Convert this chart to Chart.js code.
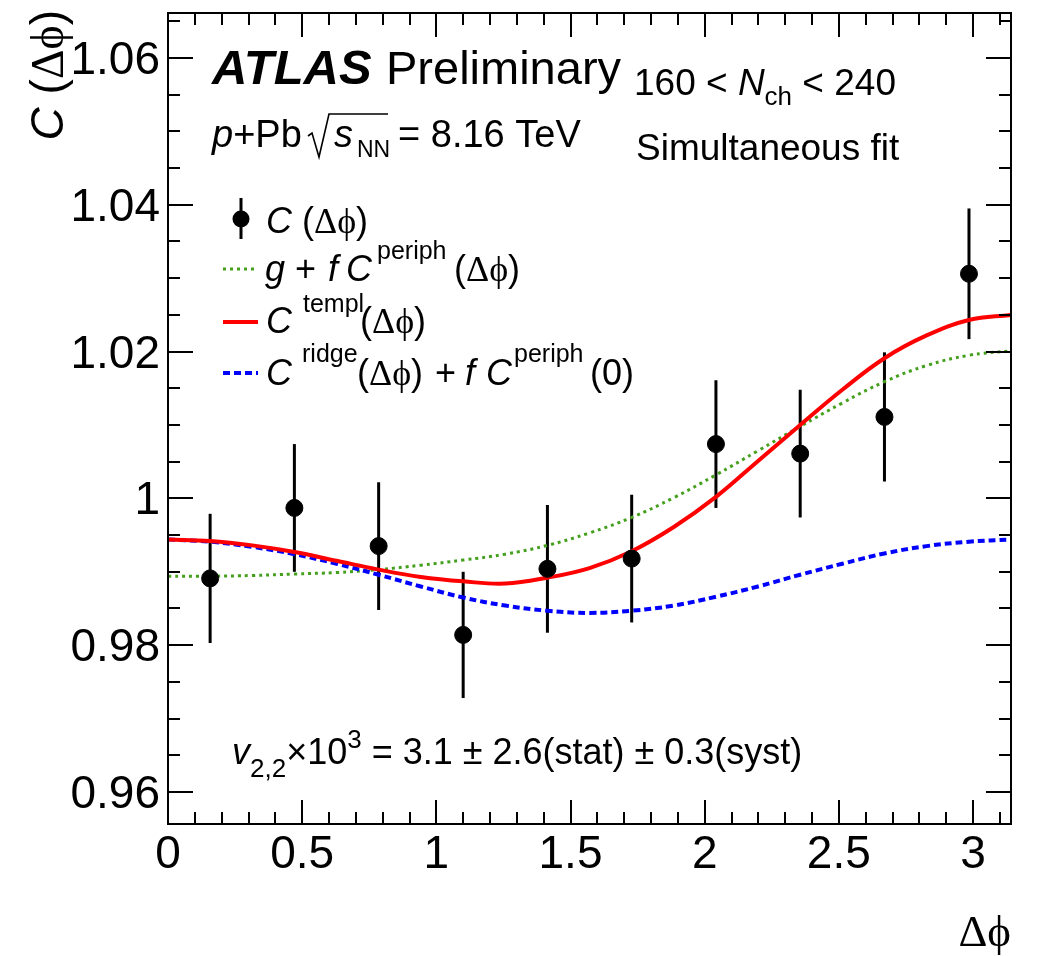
<!DOCTYPE html>
<html>
<head>
<meta charset="utf-8">
<script src="https://cdn.jsdelivr.net/npm/chart.js@4"></script>
<style>
  body { margin: 0; background: #fff; }
  #wrap { width: 1039px; height: 956px; }
</style>
</head>
<body>
<div id="wrap"><canvas id="corr" width="1039" height="956"></canvas></div>
<script>
// measured points, C(dphi) with stat errors
const binCenters = [0.157, 0.471, 0.785, 1.100, 1.414, 1.728, 2.042, 2.356, 2.670, 2.985];
const cValues = [0.9891, 0.9987, 0.9935, 0.9814, 0.9904, 0.9918, 1.0074, 1.0061, 1.0111, 1.0306];
const cErrors = [0.0088, 0.0087, 0.0087, 0.0086, 0.0087, 0.0087, 0.0087, 0.0087, 0.0088, 0.0089];

// fit curves, every pi/20
const curveX = [0, 0.157, 0.314, 0.471, 0.628, 0.785, 0.942, 1.100, 1.257, 1.414, 1.571,
                1.728, 1.885, 2.042, 2.199, 2.356, 2.513, 2.670, 2.827, 2.985, 3.1416];
const gPeriph = [0.9894, 0.9894, 0.9895, 0.9897, 0.9899, 0.9903, 0.9909, 0.9916, 0.9924, 0.9936, 0.9953,
                 0.9974, 1.0001, 1.0032, 1.0065, 1.0098, 1.0130, 1.0159, 1.0181, 1.0195, 1.0201];
const cTempl = [0.9944, 0.9942, 0.9936, 0.9927, 0.9915, 0.9903, 0.9893, 0.9887, 0.9884, 0.9892, 0.9905,
                0.9928, 0.9961, 1.0002, 1.0051, 1.0100, 1.0148, 1.0191, 1.0222, 1.0243, 1.0250];
const cRidge = [0.9944, 0.9941, 0.9934, 0.9924, 0.9911, 0.9896, 0.9880, 0.9865, 0.9854, 0.9847, 0.9844,
                0.9847, 0.9854, 0.9866, 0.9880, 0.9896, 0.9911, 0.9925, 0.9935, 0.9941, 0.9944];

// axis ticks
const xTicks = [0, 0.5, 1, 1.5, 2, 2.5, 3];
const xTickLabels = ['0', '0.5', '1', '1.5', '2', '2.5', '3'];
const yTicks = [0.96, 0.98, 1.00, 1.02, 1.04, 1.06];
const yTickLabels = ['0.96', '0.98', '1', '1.02', '1.04', '1.06'];

const SANS = '"Liberation Sans", Arial, Helvetica, sans-serif';
const SERIF = '"Liberation Serif", "DejaVu Serif", "Times New Roman", serif';
const GREEN = '#44a01c';

function pts(xs, ys) {
    return xs.map((x, i) => ({ x: x, y: ys[i] }));
}

// draw pieces of text one after another; a piece may pin its own x
function run(ctx, x, y, parts) {
    ctx.textAlign = 'left';
    ctx.textBaseline = 'alphabetic';
    for (const p of parts) {
        if (p.x !== undefined) x = p.x;
        ctx.font = p.f;
        ctx.fillText(p.t, x, y + (p.dy || 0));
        x += ctx.measureText(p.t).width;
    }
    return x;
}

const errorBars = {
    id: 'errorBars',
    beforeDatasetsDraw(chart) {
        const ctx = chart.ctx, xs = chart.scales.x, ys = chart.scales.y;
        ctx.save();
        ctx.strokeStyle = '#000';
        ctx.lineWidth = 3;
        binCenters.forEach((bx, i) => {
            const px = xs.getPixelForValue(bx);
            ctx.beginPath();
            ctx.moveTo(px, ys.getPixelForValue(cValues[i] + cErrors[i]));
            ctx.lineTo(px, ys.getPixelForValue(cValues[i] - cErrors[i]));
            ctx.stroke();
        });
        ctx.restore();
    }
};

const frame = {
    id: 'frame',
    afterDraw(chart) {
        const ctx = chart.ctx, a = chart.chartArea;
        const xs = chart.scales.x, ys = chart.scales.y;
        ctx.save();
        ctx.strokeStyle = '#000';
        ctx.lineWidth = 2;
        ctx.strokeRect(a.left, a.top, a.right - a.left, a.bottom - a.top);

        ctx.beginPath();
        // x ticks, bottom and top, pointing inward
        for (let k = 0; k <= 31; k++) {
            const v = k / 10;
            const px = Math.round(xs.getPixelForValue(v));
            const len = (k % 5 === 0) ? 24 : 12;
            ctx.moveTo(px, a.bottom); ctx.lineTo(px, a.bottom - len);
            ctx.moveTo(px, a.top); ctx.lineTo(px, a.top + len);
        }
        // y ticks, left and right
        for (let k = 0; k <= 21; k++) {
            const v = 0.96 + k * 0.005;
            const py = Math.round(ys.getPixelForValue(v));
            const len = (k % 4 === 0) ? 25 : 12;
            ctx.moveTo(a.left, py); ctx.lineTo(a.left + len, py);
            ctx.moveTo(a.right, py); ctx.lineTo(a.right - len, py);
        }
        ctx.stroke();

        ctx.fillStyle = '#000';
        ctx.font = '46px ' + SANS;
        ctx.textBaseline = 'alphabetic';
        ctx.textAlign = 'center';
        xTicks.forEach((v, i) => ctx.fillText(xTickLabels[i], xs.getPixelForValue(v), 868));
        ctx.textAlign = 'right';
        yTicks.forEach((v, i) => ctx.fillText(yTickLabels[i], 160, ys.getPixelForValue(v) + 16));

        // axis titles
        ctx.textAlign = 'right';
        ctx.font = '45px ' + SERIF;
        ctx.fillText('Δϕ', 1011, 946);

        ctx.save();
        ctx.translate(63, 10);
        ctx.rotate(-Math.PI / 2);
        const parts = [
            { t: 'C', f: 'italic 46px ' + SANS },
            { t: ' (', f: '46px ' + SANS },
            { t: 'Δϕ', f: '46px ' + SERIF },
            { t: ')', f: '46px ' + SANS }
        ];
        let w = 0;
        parts.forEach(p => { ctx.font = p.f; w += ctx.measureText(p.t).width; });
        run(ctx, -w, 0, parts);
        ctx.restore();

        // labels
        run(ctx, 212, 84, [
            { t: 'ATLAS', f: 'italic bold 49px ' + SANS },
            { t: 'Preliminary', f: '47px ' + SANS, x: 386 }
        ]);
        run(ctx, 212, 147, [
            { t: 'p', f: 'italic 38px ' + SANS },
            { t: '+Pb', f: '38px ' + SANS },
            { t: 's', f: 'italic 38px ' + SANS, x: 334 },
            { t: 'NN', f: '23px ' + SANS, x: 357, dy: 10 },
            { t: '= 8.16 TeV', f: '38px ' + SANS, x: 398 }
        ]);
        // radical sign over s_NN
        ctx.beginPath();
        ctx.lineWidth = 1.6;
        ctx.moveTo(308, 136);
        ctx.lineTo(312, 133);
        ctx.lineTo(319, 157);
        ctx.lineTo(329, 114);
        ctx.lineTo(388, 114);
        ctx.stroke();

        run(ctx, 634, 95, [
            { t: '160 < ', f: '37px ' + SANS },
            { t: 'N', f: 'italic 37px ' + SANS },
            { t: 'ch', f: '26px ' + SANS, dy: 10 },
            { t: ' < 240', f: '37px ' + SANS }
        ]);
        run(ctx, 636, 160, [{ t: 'Simultaneous fit', f: '37px ' + SANS }]);

        run(ctx, 232, 764, [
            { t: 'v', f: 'italic 36px ' + SANS },
            { t: '2,2', f: '26px ' + SANS, dy: 13 },
            { t: '×10', f: '36px ' + SANS },
            { t: '3', f: '26px ' + SANS, dy: -16 },
            { t: ' = 3.1 ± 2.6(stat) ± 0.3(syst)', f: '36px ' + SANS }
        ]);

        // legend
        const L = '36px ' + SANS, LI = 'italic 36px ' + SANS, LS = '36px ' + SERIF, SUP = '25px ' + SANS;
        ctx.strokeStyle = '#000';
        ctx.lineWidth = 3;
        ctx.beginPath(); ctx.moveTo(241, 198); ctx.lineTo(241, 239); ctx.stroke();
        ctx.beginPath(); ctx.arc(241, 219, 8.5, 0, 2 * Math.PI); ctx.fill();
        run(ctx, 266, 233, [
            { t: 'C', f: LI }, { t: ' (', f: L }, { t: 'Δϕ', f: LS }, { t: ')', f: L }
        ]);

        ctx.lineWidth = 3;
        ctx.strokeStyle = GREEN;
        ctx.setLineDash([3, 4]);
        ctx.beginPath(); ctx.moveTo(223, 269); ctx.lineTo(258, 269); ctx.stroke();
        ctx.strokeStyle = '#ff0000';
        ctx.setLineDash([]);
        ctx.lineWidth = 4;
        ctx.beginPath(); ctx.moveTo(223, 322); ctx.lineTo(258, 322); ctx.stroke();
        ctx.strokeStyle = '#0000ff';
        ctx.setLineDash([7, 4]);
        ctx.beginPath(); ctx.moveTo(223, 373); ctx.lineTo(258, 373); ctx.stroke();
        ctx.setLineDash([]);

        run(ctx, 265, 281, [
            { t: 'g', f: LI }, { t: ' + ', f: L }, { t: 'f', f: LI, x: 328 }, { t: 'C', f: LI, x: 346 },
            { t: 'periph', f: SUP, x: 377, dy: -22 }, { t: '(', f: L, x: 454 }, { t: 'Δϕ', f: LS }, { t: ')', f: L }
        ]);
        run(ctx, 266, 333, [
            { t: 'C', f: LI }, { t: 'templ', f: SUP, x: 303, dy: -21 },
            { t: '(', f: L, x: 360 }, { t: 'Δϕ', f: LS }, { t: ')', f: L }
        ]);
        run(ctx, 266, 385, [
            { t: 'C', f: LI }, { t: 'ridge', f: SUP, x: 302, dy: -23 },
            { t: '(', f: L, x: 357 }, { t: 'Δϕ', f: LS }, { t: ')', f: L },
            { t: '+', f: L, x: 435 }, { t: 'f', f: LI, x: 465 }, { t: 'C', f: LI, x: 486 },
            { t: 'periph', f: SUP, x: 514, dy: -23 }, { t: '(0)', f: L, x: 590 }
        ]);
        ctx.restore();
    }
};

const ctx = document.getElementById('corr').getContext('2d');
new Chart(ctx, {
    type: 'scatter',
    data: {
        datasets: [{
            label: 'C',
            data: pts(binCenters, cValues),
            backgroundColor: '#000',
            borderColor: '#000',
            pointRadius: 8.5,
            showLine: false
        }, {
            label: 'templ',
            type: 'line',
            data: pts(curveX, cTempl),
            borderColor: '#ff0000',
            borderWidth: 4,
            pointRadius: 0,
            fill: false,
            tension: 0.4
        }, {
            label: 'ridge',
            type: 'line',
            data: pts(curveX, cRidge),
            borderColor: '#0000ff',
            borderWidth: 4,
            borderDash: [7, 4],
            pointRadius: 0,
            fill: false,
            tension: 0.4
        }, {
            label: 'periph',
            type: 'line',
            data: pts(curveX, gPeriph),
            borderColor: GREEN,
            borderWidth: 3,
            borderDash: [3, 4],
            pointRadius: 0,
            fill: false,
            tension: 0.4
        }]
    },
    options: {
        responsive: false,
        animation: false,
        events: [],
        layout: { padding: { left: 168, right: 28, top: 13, bottom: 132 } },
        scales: {
            x: { type: 'linear', min: 0, max: Math.PI, display: false },
            y: { type: 'linear', min: 0.95564, max: 1.06613, display: false }
        },
        plugins: {
            legend: { display: false },
            tooltip: { enabled: false }
        }
    },
    plugins: [errorBars, frame]
});
</script>
</body>
</html>
